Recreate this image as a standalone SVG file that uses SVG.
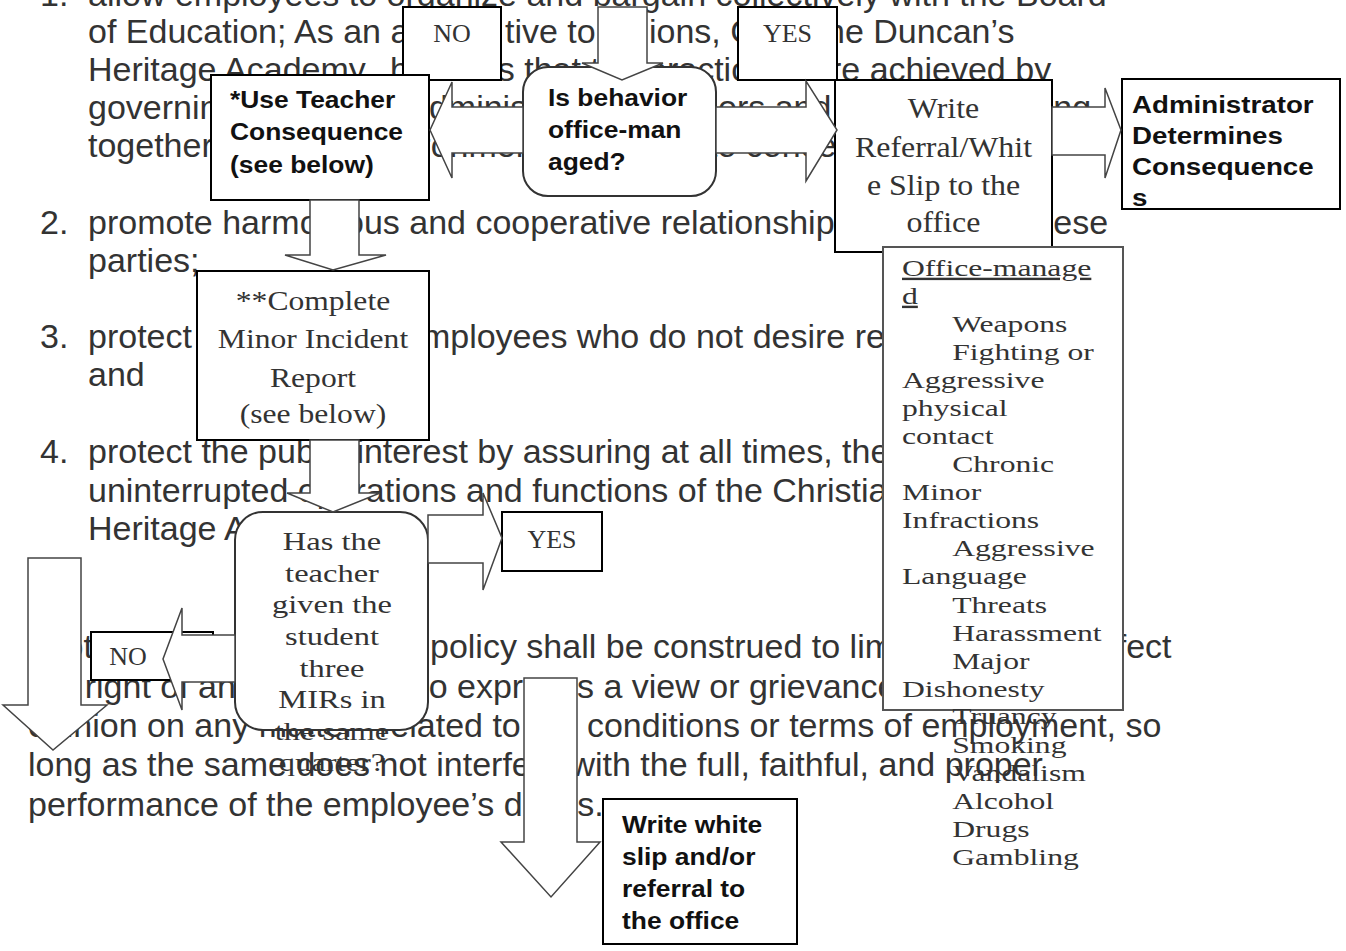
<svg xmlns="http://www.w3.org/2000/svg" width="1346" height="951" viewBox="0 0 1346 951">
<defs>
<style>
.b{font-family:"Liberation Sans",Arial,sans-serif;font-size:34px;fill:#333}
.box{fill:#fff;stroke:#000;stroke-width:2}
.lbox{fill:#fff;stroke:#555;stroke-width:2}
.bub{fill:#fff;stroke:#333;stroke-width:2}
.arr{fill:#fff;stroke:#444;stroke-width:1.5}
.sf{font-family:"Liberation Serif","Times New Roman",serif;fill:#333}
.bd{font-family:"Liberation Sans",Arial,sans-serif;font-weight:bold;font-size:24px;fill:#111}
.mid{text-anchor:middle}
</style>
<clipPath id="clipAdmin"><rect x="1122" y="79" width="218" height="130"/></clipPath>
</defs>
<rect width="1346" height="951" fill="#fff"/>

<g id="page-text">
<text class="b" y="6"><tspan x="40">1.</tspan><tspan x="88">allow employees to organize and bargain collectively with the Board</tspan></text>
<text class="b" y="43"><tspan x="88">of Education; As an al</tspan><tspan x="505">tive to</tspan><tspan x="649">ions, C</tspan><tspan x="826">he Duncan’s</tspan></text>
<text class="b" y="81"><tspan x="88">Heritage Academy</tspan><tspan x="390">believes that the</tspan><tspan x="648">eractions</tspan><tspan x="830">re achieved by</tspan></text>
<text class="b" y="119"><tspan x="88">governing</tspan><tspan x="410">administrators,</tspan><tspan x="718">ors and</tspan><tspan x="974">working</tspan></text>
<text class="b" y="157"><tspan x="88">together</tspan><tspan x="357">environment</tspan><tspan x="708">to concern</tspan></text>
<text class="b" y="234"><tspan x="40">2.</tspan><tspan x="88">promote harmonious and cooperative relationships</tspan><tspan x="1025">these</tspan></text>
<text class="b" y="272" x="88">parties;</text>
<text class="b" y="348"><tspan x="40">3.</tspan><tspan x="88">protect</tspan><tspan x="403">employees who do not desire representation;</tspan></text>
<text class="b" y="386" x="88">and</text>
<text class="b" y="463"><tspan x="40">4.</tspan><tspan x="88">protect the public interest by assuring at all times, the orderly</tspan></text>
<text class="b" y="502" x="88">uninterrupted operations and functions of the Christian</text>
<text class="b" y="540" x="88">Heritage Academy.</text>
<text class="b" y="658"><tspan x="40">Nothing</tspan><tspan x="430">policy shall be construed to limit</tspan><tspan x="1089">affect</tspan></text>
<text class="b" y="698"><tspan x="28">the right of any employee to expre</tspan><tspan x="560">ss a view or grievance</tspan></text>
<text class="b" y="737"><tspan x="28">opinion on any matter</tspan><tspan x="379">related to the conditions or terms of employment, so</tspan></text>
<text class="b" y="776" x="28">long as the same does not interfere with the full, faithful, and proper</text>
<text class="b" y="816" x="28">performance of the employee’s duties.</text>
</g>

<g id="node-no-top">
<rect class="box" x="403" y="7" width="98" height="73"/>
<text class="sf mid" x="452" y="42" font-size="26">NO</text>
</g>

<g id="node-use-teacher">
<rect class="box" x="211" y="75" width="218" height="125"/>
<g transform="translate(230 0) scale(1.1 1)">
<text class="bd" x="0" y="108">*Use Teacher</text>
<text class="bd" x="0" y="140.5">Consequence</text>
<text class="bd" x="0" y="173">(see below)</text>
</g>
</g>

<g id="node-office-managed-question">
<rect class="bub" x="523" y="67" width="193" height="129" rx="25" ry="25"/>
<g transform="translate(548 0) scale(1.1 1)">
<text class="bd" x="0" y="106">Is behavior</text>
<text class="bd" x="0" y="138">office-man</text>
<text class="bd" x="0" y="170">aged?</text>
</g>
</g>

<g id="node-yes-top">
<rect class="box" x="738" y="7" width="99" height="73"/>
<text class="sf mid" x="787.5" y="42" font-size="26">YES</text>
</g>

<g id="node-write-referral">
<rect class="box" x="835" y="80" width="217" height="172"/>
<g transform="translate(943.5 0) scale(1.1 1)">
<text class="sf mid" x="0" y="118" font-size="29">Write</text>
<text class="sf mid" x="0" y="157" font-size="29">Referral/Whit</text>
<text class="sf mid" x="0" y="195" font-size="29">e Slip to the</text>
<text class="sf mid" x="0" y="232" font-size="29">office</text>
</g>
</g>

<g id="node-administrator">
<rect class="box" x="1122" y="79" width="218" height="130"/>
<g clip-path="url(#clipAdmin)">
<g transform="translate(1132 0) scale(1.155 1)">
<text class="bd" x="0" y="113">Administrator</text>
<text class="bd" x="0" y="144">Determines</text>
<text class="bd" x="0" y="175">Consequence</text>
<text class="bd" x="0" y="206">s</text>
</g>
</g>
</g>

<g id="node-minor-incident">
<rect class="box" x="197" y="271" width="232" height="169"/>
<g transform="translate(313 0) scale(1.17 1)">
<text class="sf mid" x="0" y="310" font-size="27">**Complete</text>
<text class="sf mid" x="0" y="348" font-size="27">Minor Incident</text>
<text class="sf mid" x="0" y="387" font-size="27">Report</text>
<text class="sf mid" x="0" y="423" font-size="27">(see below)</text>
</g>
</g>

<g id="node-three-mirs">
<rect class="bub" x="235" y="512" width="193" height="218" rx="28" ry="28"/>
<g transform="translate(332 0) scale(1.3 1)">
<text class="sf mid" x="0" y="550" font-size="25">Has the</text>
<text class="sf mid" x="0" y="582" font-size="25">teacher</text>
<text class="sf mid" x="0" y="613" font-size="25">given the</text>
<text class="sf mid" x="0" y="645" font-size="25">student</text>
<text class="sf mid" x="0" y="677" font-size="25">three</text>
<text class="sf mid" x="0" y="708" font-size="25">MIRs in</text>
<text class="sf mid" x="0" y="740" font-size="25">the same</text>
<text class="sf mid" x="0" y="771" font-size="25">quarter?</text>
</g>
</g>

<g id="node-yes-bottom">
<rect class="box" x="502" y="512" width="100" height="59"/>
<text class="sf mid" x="552" y="548" font-size="26">YES</text>
</g>

<g id="node-no-bottom">
<rect class="box" x="91" y="632" width="122" height="48"/>
<text class="sf mid" x="128" y="665" font-size="26">NO</text>
</g>

<g id="node-write-white-slip">
<rect class="box" x="603" y="799" width="194" height="145"/>
<g transform="translate(622 0) scale(1.1 1)">
<text class="bd" x="0" y="833">Write white</text>
<text class="bd" x="0" y="865">slip and/or</text>
<text class="bd" x="0" y="897">referral to</text>
<text class="bd" x="0" y="929">the office</text>
</g>
</g>

<g id="node-office-managed-list">
<rect class="lbox" x="883" y="247" width="240" height="463"/>
<g transform="translate(902 0) scale(1.32 1)">
<text class="sf" x="0" y="276" font-size="24" text-decoration="underline">Office-manage</text>
<text class="sf" x="0" y="304" font-size="24" text-decoration="underline">d</text>
<text class="sf" x="38" y="332" font-size="24">Weapons</text>
<text class="sf" x="38" y="360" font-size="24">Fighting or</text>
<text class="sf" x="0" y="388" font-size="24">Aggressive</text>
<text class="sf" x="0" y="416" font-size="24">physical</text>
<text class="sf" x="0" y="444" font-size="24">contact</text>
<text class="sf" x="38" y="472" font-size="24">Chronic</text>
<text class="sf" x="0" y="500" font-size="24">Minor</text>
<text class="sf" x="0" y="528" font-size="24">Infractions</text>
<text class="sf" x="38" y="556" font-size="24">Aggressive</text>
<text class="sf" x="0" y="584" font-size="24">Language</text>
<text class="sf" x="38" y="613" font-size="24">Threats</text>
<text class="sf" x="38" y="641" font-size="24">Harassment</text>
<text class="sf" x="38" y="669" font-size="24">Major</text>
<text class="sf" x="0" y="697" font-size="24">Dishonesty</text>
<text class="sf" x="38" y="724" font-size="24">Truancy</text>
<text class="sf" x="38" y="753" font-size="24">Smoking</text>
<text class="sf" x="38" y="781" font-size="24">Vandalism</text>
<text class="sf" x="38" y="809" font-size="24">Alcohol</text>
<text class="sf" x="38" y="837" font-size="24">Drugs</text>
<text class="sf" x="38" y="865" font-size="24">Gambling</text>
</g>
</g>

<g id="connectors">
<polygon class="arr" points="523,107 452,107 452,82 430,130 452,178 452,153 523,153"/>
<polygon class="arr" points="598,7 647,7 647,63 663,63 622,80 582,63 598,63"/>
<polygon class="arr" points="716,107 806,107 806,81 837,130 806,181 806,153 716,153"/>
<polygon class="arr" points="1052,107 1105,107 1105,88 1121,130 1105,178 1105,155 1052,155"/>
<polygon class="arr" points="310,200 359,200 359,255 386,255 333,270 285,255 310,255"/>
<polygon class="arr" points="310,440 359,440 359,493 380,493 333,512 287,493 310,493"/>
<polygon class="arr" points="428,515 483,515 483,493 502,538 483,590 483,563 428,563"/>
<polygon class="arr" points="235,635 182,635 182,608 163,659 182,710 182,682 235,682"/>
<polygon class="arr" points="28,558 81,558 81,705 107,705 53,750 3,705 28,705"/>
<polygon class="arr" points="524,678 577,678 577,842 600,842 551,897 501,842 524,842"/>
</g>
</svg>
